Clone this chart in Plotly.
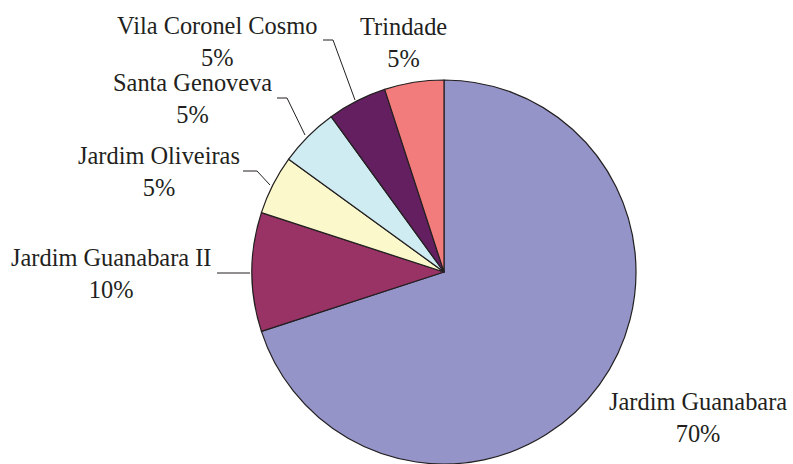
import plotly.graph_objects as go

W, H = 793, 464

labels = ["Jardim Guanabara", "Jardim Guanabara II", "Jardim Oliveiras",
          "Santa Genoveva", "Vila Coronel Cosmo", "Trindade"]
values = [70, 10, 5, 5, 5, 5]
colors = ["#9494C8", "#993366", "#FBF9CC", "#CFECF2", "#631F60", "#F27B7B"]

# label block centres (pixels) and leader lines (pixels)
label_pos = {
    "Jardim Guanabara": (698, 417),
    "Jardim Guanabara II": (111, 273),
    "Jardim Oliveiras": (159, 171),
    "Santa Genoveva": (192, 98),
    "Vila Coronel Cosmo": (217, 41),
    "Trindade": (403, 42),
}
leaders = {
    "Jardim Guanabara II": [(217, 273), (250, 273)],
    "Jardim Oliveiras": [(243, 171), (257, 171), (270, 185)],
    "Santa Genoveva": [(277, 98), (287, 98), (305, 135)],
    "Vila Coronel Cosmo": [(323, 40), (333, 40), (355, 100)],
}

FONT = "Liberation Serif"

def px(x):
    return x / W

def py(y):
    return 1 - y / H

fig = go.Figure(go.Pie(
    labels=labels, values=values, sort=False, direction="clockwise",
    rotation=0, textinfo="none", hoverinfo="label+percent",
    marker=dict(colors=colors, line=dict(color="#231F20", width=1.2)),
    domain=dict(x=[px(252), px(636)], y=[py(464), py(80)]),
    showlegend=False,
))

total = sum(values)
for lab, val in zip(labels, values):
    x, y = label_pos[lab]
    fig.add_annotation(
        x=px(x), y=py(y), xref="paper", yref="paper",
        text=f"{lab}<br>{round(100 * val / total)}%",
        showarrow=False, xanchor="center", yanchor="middle", align="center",
        font=dict(family=FONT, size=24.4, color="#231F20"),
    )

for lab, pts in leaders.items():
    path = "M " + " L ".join(f"{px(a)},{py(b)}" for a, b in pts)
    fig.add_shape(type="path", path=path, xref="paper", yref="paper",
                  line=dict(color="#231F20", width=1))

fig.update_layout(
    width=W, height=H, margin=dict(l=0, r=0, t=0, b=0),
    paper_bgcolor="white", plot_bgcolor="white",
    font=dict(family=FONT),
)

fig.write_html("out.html")
